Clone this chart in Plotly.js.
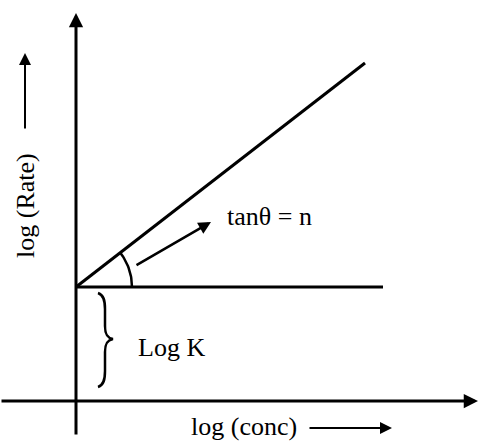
<!DOCTYPE html>
<html>
<head>
<meta charset="utf-8">
<script src="https://cdn.plot.ly/plotly-3.0.1.min.js"></script>
<style>
  html, body { margin: 0; padding: 0; background: #fff; }
  #chart { width: 479px; height: 443px; }
</style>
</head>
<body>
<div id="chart"></div>
<script>
// schematic values: log(conc) on x, log(rate) on y
const logConc = [0, 2.89];
const logRate = [1.14, 3.38];
const flatConc = [0, 3.07];
const logK = [1.14, 1.14];

const serif = "Liberation Serif, Times New Roman, serif";
const ink = "#000";

// small arc marking the angle between the two lines
const theta = Math.atan2(logRate[1] - logRate[0], logConc[1] - logConc[0]);
const arcR = 0.56;
const arcX = [], arcY = [];
for (let i = 0; i <= 24; i++) {
  const a = theta * i / 24;
  arcX.push(logConc[0] + arcR * Math.cos(a));
  arcY.push(logK[0] + arcR * Math.sin(a));
}

const traces = [
  { type: "scatter", mode: "lines", x: logConc, y: logRate,
    line: { color: ink, width: 3 }, hoverinfo: "skip" },
  { type: "scatter", mode: "lines", x: flatConc, y: logK,
    line: { color: ink, width: 3 }, hoverinfo: "skip" },
  { type: "scatter", mode: "lines", x: arcX, y: arcY,
    line: { color: ink, width: 2.5 }, hoverinfo: "skip" },
];

function arrow(x0, y0, x1, y1, w, size) {
  return {
    x: x1, y: y1, ax: x0, ay: y0, xref: "x", yref: "y", axref: "x", ayref: "y",
    text: "", showarrow: true, arrowhead: 2, arrowsize: size, arrowwidth: w,
    arrowcolor: ink, standoff: 0, startstandoff: 0,
  };
}

function label(text, x, y, xanchor, angle) {
  return {
    x: x, y: y, xref: "x", yref: "y", text: text, showarrow: false,
    xanchor: xanchor, yanchor: "middle", textangle: angle || 0,
    font: { family: serif, size: 26, color: ink },
  };
}

const layout = {
  width: 479,
  height: 443,
  margin: { l: 0, r: 0, t: 0, b: 0 },
  paper_bgcolor: "#fff",
  plot_bgcolor: "#fff",
  showlegend: false,
  xaxis: { range: [-0.76, 4.03], visible: false, fixedrange: true },
  yaxis: { range: [-0.42, 4.01], visible: false, fixedrange: true },
  shapes: [
    { type: "path", xref: "x", yref: "y",
      path: "M0.22,1.08 C0.28,1.06 0.29,1.00 0.29,0.92 L0.29,0.75 C0.29,0.67 0.31,0.63 0.37,0.62" +
            " C0.31,0.61 0.29,0.57 0.29,0.49 L0.29,0.30 C0.29,0.22 0.28,0.16 0.22,0.14",
      line: { color: ink, width: 2.5 } },
  ],
  annotations: [
    arrow(-0.76, 0, 4.02, 0, 3, 0.95),
    arrow(0, -0.35, 0, 3.88, 3, 0.95),
    arrow(0.59, 1.35, 1.35, 1.79, 2.5, 1.0),
    arrow(2.32, -0.27, 3.16, -0.27, 2, 1.2),
    arrow(-0.51, 2.71, -0.51, 3.48, 2, 1.2),
    label("tanθ = n", 1.49, 1.85, "left"),
    label("Log K", 0.60, 0.54, "left"),
    label("log (conc)", 1.68, -0.255, "center"),
    label("log (Rate)", -0.51, 1.95, "center", -90),
  ],
};

Plotly.newPlot("chart", traces, layout, { displayModeBar: false, staticPlot: true });
</script>
</body>
</html>
